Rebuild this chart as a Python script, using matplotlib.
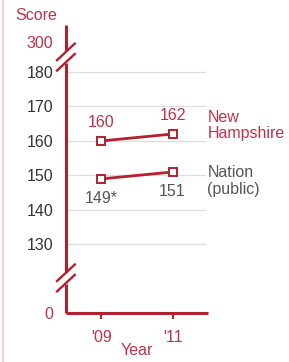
import matplotlib
matplotlib.use("Agg")
import matplotlib.pyplot as plt
from matplotlib.lines import Line2D

# === data ===
years = [2009, 2011]
year_labels = ["'09", "'11"]
nh_scores = [160, 162]
nh_labels = ["160", "162"]
nation_scores = [149, 151]
nation_labels = ["149*", "151"]
grid_values = [130, 140, 150, 160, 170, 180]

RED = "#b3202e"
TXT_RED = "#c0304a"
GRAY = "#555555"
DARK = "#333333"

plt.rcParams['font.family'] = ['Liberation Sans', 'DejaVu Sans']

fig = plt.figure(figsize=(2.89, 3.62), dpi=100)
ax = fig.add_axes([0.228, 0.135, 0.492, 0.796])

# broken axis: 0 at the bottom, 300 above the break
y_zero, y_top_label = 110.1, 188.7
ax.set_ylim(y_zero, 193.6)
ax.set_xlim(2008.0, 2012.0)

for v in grid_values:
    ax.plot([2008.0, 2011.9], [v, v], color="#dddddd", linewidth=0.9, zorder=0)

ax.plot(years, nh_scores, color=RED, linewidth=2.0, marker='s', markersize=6,
        markerfacecolor='white', markeredgecolor=RED, markeredgewidth=1.4, zorder=3)
ax.plot(years, nation_scores, color=RED, linewidth=2.0, marker='s', markersize=6,
        markerfacecolor='white', markeredgecolor=RED, markeredgewidth=1.4, zorder=3)

for x, y, lab in zip(years, nh_scores, nh_labels):
    ax.annotate(lab, (x, y), xytext=(0, 13), textcoords='offset points',
                ha='center', va='center', color=TXT_RED, fontsize=11.5)
for x, y, lab in zip(years, nation_scores, nation_labels):
    ax.annotate(lab, (x, y), xytext=(0, -14), textcoords='offset points',
                ha='center', va='center', color=GRAY, fontsize=11.5)

# series names on the right
ax.annotate("New\nHampshire", (years[-1], nh_scores[-1]), xytext=(25, 6),
            textcoords='offset points', ha='left', va='center', color=TXT_RED,
            fontsize=11.5, linespacing=1.1, annotation_clip=False)
ax.annotate("Nation\n(public)", (years[-1], nation_scores[-1]), xytext=(25, -6.5),
            textcoords='offset points', ha='left', va='center', color=GRAY,
            fontsize=11.5, linespacing=1.1, annotation_clip=False)

# spines
for s in ['top', 'right']:
    ax.spines[s].set_visible(False)
for s in ['left', 'bottom']:
    ax.spines[s].set_color(RED)
    ax.spines[s].set_linewidth(2.2)
    ax.spines[s].set_capstyle('butt')

ax.set_yticks([y_zero] + grid_values + [y_top_label])
ax.set_yticklabels(["0"] + [str(v) for v in grid_values] + ["300"], fontsize=11.5)
ax.tick_params(axis='y', length=0, pad=9)
for lbl in ax.get_yticklabels():
    lbl.set_color(DARK)
ax.get_yticklabels()[0].set_color(TXT_RED)
ax.get_yticklabels()[-1].set_color(TXT_RED)

ax.set_xticks(years)
ax.set_xticklabels(year_labels, fontsize=11.5, color=TXT_RED)
ax.tick_params(axis='x', length=4, width=1.5, color=RED, pad=8)

ax.set_xlabel("Year", fontsize=11.5, color=TXT_RED, labelpad=-1)
fig.text(0.052, 0.958, "Score", fontsize=11.5, color=TXT_RED, ha='left', va='center')

# axis break marks
for yb in [184.3, 120.3]:
    ax.plot([2008.0, 2008.0], [yb - 1.8, yb + 1.8], color='white', linewidth=3.5,
            clip_on=False, zorder=5, solid_capstyle='butt')
    for dy in (-1.5, 1.5):
        ax.plot([2008.0 - 0.25, 2008.0 + 0.25], [yb + dy - 2.4, yb + dy + 2.4],
                color=RED, linewidth=1.7, clip_on=False, zorder=6)

# thin pink frame on the left
fig.add_artist(Line2D([2.5 / 289, 2.5 / 289], [0, 1], color="#f3c4cb", linewidth=1.2))

fig.savefig("out.png", dpi=100)
